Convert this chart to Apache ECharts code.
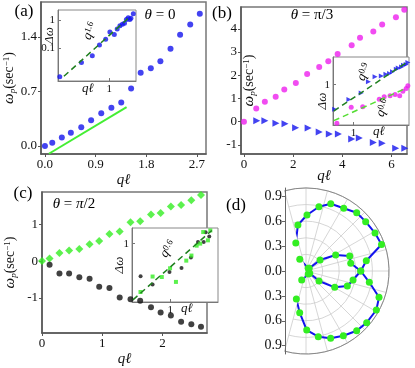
<!DOCTYPE html>
<html>
<head>
<meta charset="utf-8">
<script src="https://cdn.jsdelivr.net/npm/echarts@6/dist/echarts.min.js"></script>
<style>html,body{margin:0;padding:0;background:#fff}#chart{width:415px;height:368px}</style>
</head>
<body>
<div id="chart"></div>
<script>
// (a) theta = 0
var aQ = [0, 0.13, 0.30, 0.46, 0.645, 0.82, 1.0, 1.18, 1.355, 1.53, 1.70, 1.88, 2.05, 2.23, 2.40, 2.58, 2.75];
var aW = [0, 0.04, 0.11, 0.17, 0.24, 0.33, 0.42, 0.49, 0.56, 0.74, 0.94, 1.00, 1.09, 1.25, 1.43, 1.56, 1.70];
var aFitQ = [0.07, 1.45];
var aFitW = [-0.10, 0.50];
var aInQ = [0.126, 0.313, 0.493, 0.665, 0.863, 1.03, 1.24, 1.40, 1.57, 1.74, 1.90, 2.06, 2.22, 2.37, 2.49, 2.75];
var aInDw = [0.0096, 0.031, 0.054, 0.13, 0.208, 0.373, 0.303, 0.477, 0.625, 0.708, 0.762, 1.04, 1.21, 1.04, 1.15, 1.66];
var aInFitQ = [0.150, 2.39];
var aInFitDw = [0.01, 1.31];

// (b) theta = pi/3
var bQ = [0, 0.5, 0.85, 1.29, 1.64, 2.11, 2.57, 3.06, 3.43, 3.81, 4.38, 4.72, 5.26, 5.62, 6.18, 6.52];
var bUp = [0, 0.57, 0.86, 1.07, 1.39, 1.67, 2.05, 2.36, 2.6, 2.92, 3.29, 3.62, 3.89, 4.19, 4.5, 4.82];
var bQLow = [0.52, 0.85, 1.30, 1.67, 2.1, 2.61, 3.06, 3.47, 3.84, 4.38, 4.69, 5.26, 5.62, 6.17, 6.54];
var bLow = [0.04, 0.04, -0.07, -0.09, -0.26, -0.27, -0.44, -0.53, -0.53, -0.74, -0.70, -0.90, -0.93, -1.14, -1.14];
var bInLowDw = [0.32, 0.50, 0.68, 1.14, 1.44, 1.50, 1.63, 1.68, 1.83, 2.05, 2.18, 2.28, 2.47, 2.55, 2.8];
var bInUpQ = [0.56, 0.92, 1.37, 2.43, 2.88, 3.53, 4.2, 4.93, 5.5, 6.17, 6.54];
var bInUpDw = [0.166, 0.35, 0.36, 0.51, 0.57, 0.6, 0.63, 0.6, 0.74, 0.84, 0.95];
var bFit9Q = [0.503, 6.4];
var bFit9Dw = [0.293, 2.88];
var bFit6Q = [0.503, 6.05];
var bFit6Dw = [0.187, 0.84];

// (c) theta = pi/2
var cQ = [0, 0.126, 0.29, 0.45, 0.62, 0.79, 0.95, 1.12, 1.29, 1.47, 1.63, 1.81, 1.97, 2.14, 2.31, 2.48, 2.64];
var cUp = [0, 0.07, 0.22, 0.29, 0.33, 0.46, 0.55, 0.74, 0.81, 1.06, 1.09, 1.27, 1.31, 1.49, 1.53, 1.66, 1.80];
var cQLow = [0.126, 0.29, 0.45, 0.62, 0.79, 0.95, 1.12, 1.29, 1.47, 1.63, 1.81, 1.97, 2.14, 2.31, 2.48, 2.64];
var cLow = [-0.10, -0.34, -0.34, -0.44, -0.48, -0.70, -0.73, -0.99, -1.04, -1.08, -1.26, -1.40, -1.48, -1.65, -1.72, -1.79];
var cInBlackQ = [0.543, 0.695, 0.984, 1.26, 1.53, 1.77, 1.99, 2.07, 2.23];
var cInBlackDw = [0.677, 0.614, 0.713, 0.747, 0.846, 1.02, 1.02, 1.144, 1.09];
var cInGreenQ = [0.542, 0.695, 0.84, 0.996, 1.124, 1.39, 1.546, 1.72, 1.85, 1.97, 2.17, 2.28];
var cInGreenDw = [0.561, 0.675, 0.671, 0.745, 0.633, 0.816, 0.867, 0.976, 1.0, 1.148, 1.04, 1.17];
var cFitQ = [0.464, 2.35];
var cFitDw = [0.511, 1.17];

// (d) polar, angle in degrees
var dAng1 = [-32, -37.6, -29.6, -20, -10.8, 0, 9.7, 19.3, 28.8, 39.6, 49, 59, 69.8, 78.6, 89, 100, 110, 118, 51];
var dR1 = [0.053, 0.198, 0.398, 0.53, 0.577, 0.66, 0.737, 0.964, 0.949, 0.933, 0.931, 0.882, 0.864, 0.79, 0.675, 0.563, 0.359, 0.16, 0.042];
var dAng2 = [40, 38, 28.3, 19, 9.8, 0, -10.1, -19.8, -29, -40.4, -49.7, -60, -69.9, -79.4, -89.3, -98.6, -109, -115.5, -52];
var dR2 = [0.05, 0.215, 0.406, 0.557, 0.547, 0.66, 0.775, 0.935, 0.969, 0.96, 0.944, 0.9, 0.864, 0.805, 0.711, 0.508, 0.357, 0.12, 0.045];
var dTicks = [-0.9, -0.6, -0.3, 0, 0.3, 0.6, 0.9];

var FONT = '"Liberation Serif", "DejaVu Serif", serif';
var BLUE = '#1414ee', MAGENTA = '#ee1fee', GREEN = '#33ee22', DKGREEN = '#1f7f1f';

function pairs(xs, ys) {
    return xs.map(function (x, i) { return [x, ys[i]]; });
}

var nameRich = {
    w: { fontFamily: FONT, fontStyle: 'italic', fontSize: 15, color: '#111' },
    s: { fontFamily: FONT, fontStyle: 'italic', fontSize: 9, color: '#111', verticalAlign: 'bottom' },
    n: { fontFamily: FONT, fontSize: 14, color: '#111' },
    u: { fontFamily: FONT, fontSize: 9, color: '#111', verticalAlign: 'top' }
};
var W_NAME = '{w|ω}{s|p}{n|(sec}{u|−1}{n|)}';

function mainAxis(grid, min, max, ticks, digits, name, gap, isY) {
    return {
        type: 'value', gridIndex: grid, min: min, max: max,
        name: name, nameLocation: 'middle', nameGap: gap, nameMoveOverlap: false,
        nameTextStyle: isY ? { rich: nameRich } : { fontFamily: FONT, fontStyle: 'italic', fontSize: 15, color: '#111' },
        axisLine: { onZero: false, lineStyle: { color: '#555', width: 1.5 } },
        axisTick: { customValues: ticks, length: 3, lineStyle: { color: '#555' } },
        axisLabel: {
            customValues: ticks, fontFamily: FONT, fontSize: 13, color: '#111', margin: 4,
            formatter: function (v) { return v.toFixed(digits); }
        },
        splitLine: { show: false }
    };
}

function logAxis(grid, min, max, ticks, name, gap, pad) {
    return {
        type: 'log', logBase: 10, gridIndex: grid, min: min, max: max,
        name: name, nameLocation: 'middle', nameGap: gap, nameMoveOverlap: false,
        nameTextStyle: { fontFamily: FONT, fontStyle: 'italic', fontSize: 13, color: '#111', padding: pad || 0 },
        axisLine: { lineStyle: { color: '#777', width: 1 } },
        axisTick: { customValues: ticks, inside: true, length: 3, lineStyle: { color: '#777' } },
        axisLabel: {
            customValues: ticks, fontFamily: FONT, fontSize: 11, color: '#111', margin: 3,
            formatter: function (v) { return String(+(+v).toPrecision(2)); }
        },
        splitLine: { show: false }
    };
}

function scatter(ax, data, color, symbol, size, rot) {
    return {
        type: 'scatter', xAxisIndex: ax, yAxisIndex: ax, data: data,
        symbol: symbol, symbolSize: size, symbolRotate: rot || 0,
        itemStyle: { color: color }, silent: true
    };
}

function fit(ax, data, color, dashed, width) {
    return {
        type: 'line', xAxisIndex: ax, yAxisIndex: ax, data: data, symbol: 'none', silent: true,
        lineStyle: { color: color, width: width, type: dashed ? [6, 4] : 'solid' }
    };
}

function label(x, y, text, rich, rot) {
    return {
        type: 'text', x: x, y: y, rotation: rot || 0, z: 100,
        style: { text: text, rich: rich, align: 'center', verticalAlign: 'middle' }
    };
}

var txt = {
    i: { fontFamily: FONT, fontStyle: 'italic', fontSize: 15, color: '#111' },
    n: { fontFamily: FONT, fontSize: 15, color: '#111' },
    p: { fontFamily: FONT, fontSize: 17, color: '#111' },
    q: { fontFamily: FONT, fontStyle: 'italic', fontSize: 13, color: '#111' },
    e: { fontFamily: FONT, fontSize: 9, color: '#111', verticalAlign: 'top' }
};

var mainGrid = { show: true, borderColor: '#777', borderWidth: 1.5 };
var insetGrid = { show: true, borderColor: '#888', borderWidth: 1, backgroundColor: '#fff' };

var option = {
    animation: false,
    backgroundColor: '#fff',
    textStyle: { fontFamily: FONT },
    grid: [
        Object.assign({ left: 41, top: 2, width: 165, height: 152 }, mainGrid),
        Object.assign({ left: 58, top: 10, width: 78, height: 71 }, insetGrid),
        Object.assign({ left: 241, top: 7, width: 166, height: 147 }, mainGrid),
        Object.assign({ left: 333, top: 57, width: 76, height: 68 }, insetGrid),
        Object.assign({ left: 42, top: 192, width: 165, height: 147 }, mainGrid),
        Object.assign({ left: 132, top: 228, width: 86, height: 74 }, insetGrid),
        { left: 285, top: 188, width: 1, height: 166, show: false }
    ],
    xAxis: [
        mainAxis(0, -0.07, 2.86, [0, 0.9, 1.8, 2.7], 1, 'qℓ', 19, false),
        logAxis(1, 0.117, 3.08, [1], 'qℓ', 1, [0, 18, 0, 0]),
        mainAxis(2, -0.12, 6.63, [0, 2, 4, 6], 0, 'qℓ', 15, false),
        logAxis(3, 0.49, 6.8, [1], 'qℓ', 0, [0, 0, 0, 16]),
        mainAxis(4, 0, 2.74, [0, 1, 2], 0, 'qℓ', 19, false),
        logAxis(5, 0.455, 2.67, [1], 'qℓ', 0, [0, 0, 0, 24]),
        { type: 'value', gridIndex: 6, min: 0, max: 1, show: false }
    ],
    yAxis: [
        mainAxis(0, -0.103, 1.85, [0, 0.7, 1.4], 1, W_NAME, 24, true),
        logAxis(1, 0.0068, 2.27, [0.1, 1], 'Δω', 2, [0, 0, 0, 20]),
        mainAxis(2, -1.39, 4.94, [-1, 0, 1, 2, 3, 4], 0, W_NAME, -16, true),
        logAxis(3, 0.153, 3.63, [1], 'Δω', 4, [0, 20, 0, 0]),
        mainAxis(4, -1.96, 1.885, [-1, 0, 1], 0, W_NAME, 24, true),
        logAxis(5, 0.498, 1.205, [1], 'Δω', 6),
        {
            type: 'value', gridIndex: 6, min: -1, max: 1,
            axisLine: { lineStyle: { color: '#666', width: 1 } },
            axisTick: { customValues: dTicks, length: 3, lineStyle: { color: '#666' } },
            axisLabel: {
                customValues: dTicks, fontFamily: FONT, fontSize: 14, color: '#111', margin: 3,
                formatter: function (v) { return Math.abs(v).toFixed(1); }
            },
            splitLine: { show: false }
        }
    ],
    polar: { center: [306, 271], radius: 83 },
    angleAxis: {
        type: 'value', min: -105, max: 105, interval: 15,
        startAngle: -105, endAngle: 105, clockwise: false,
        axisLine: { lineStyle: { color: '#888', width: 1 } },
        axisTick: { show: false }, axisLabel: { show: false },
        splitLine: { lineStyle: { color: '#ccc', width: 0.8 } }
    },
    radiusAxis: {
        type: 'value', min: 0, max: 1, interval: 0.2,
        axisLine: { show: false }, axisTick: { show: false }, axisLabel: { show: false },
        splitLine: { lineStyle: { color: '#ccc', width: 0.8 } }
    },
    series: [
        fit(0, pairs(aFitQ, aFitW), '#44ee33', false, 2),
        scatter(0, pairs(aQ, aW), BLUE, 'circle', 6),
        scatter(1, pairs(aInQ, aInDw), BLUE, 'circle', 5),
        fit(1, pairs(aInFitQ, aInFitDw), DKGREEN, true, 1.5),
        scatter(2, pairs(bQ, bUp), MAGENTA, 'circle', 6),
        scatter(2, pairs(bQLow, bLow), BLUE, 'triangle', 7, -90),
        fit(3, pairs(bFit9Q, bFit9Dw), DKGREEN, true, 1.5),
        fit(3, pairs(bFit6Q, bFit6Dw), '#55dd33', true, 1.5),
        scatter(3, pairs(bQLow, bInLowDw), BLUE, 'triangle', 5, -90),
        scatter(3, pairs(bInUpQ, bInUpDw), MAGENTA, 'circle', 5),
        scatter(4, pairs(cQ, cUp), GREEN, 'diamond', 8),
        scatter(4, pairs(cQLow, cLow), '#111', 'circle', 6),
        fit(5, pairs(cFitQ, cFitDw), DKGREEN, true, 1.5),
        scatter(5, pairs(cInBlackQ, cInBlackDw), '#111', 'circle', 4),
        scatter(5, pairs(cInGreenQ, cInGreenDw), GREEN, 'rect', 4),
        {
            type: 'line', coordinateSystem: 'polar', data: pairs(dR1, dAng1), silent: true,
            symbol: 'circle', symbolSize: 7, showAllSymbol: true,
            lineStyle: { color: BLUE, width: 2 }, itemStyle: { color: GREEN }
        },
        {
            type: 'line', coordinateSystem: 'polar', data: pairs(dR2, dAng2), silent: true,
            symbol: 'circle', symbolSize: 7, showAllSymbol: true,
            lineStyle: { color: BLUE, width: 2 }, itemStyle: { color: GREEN }
        }
    ],
    graphic: [
        label(24, 12, '{p|(a)}', txt),
        label(160, 15, '{i|θ}{n| = 0}', txt),
        label(222, 14, '{p|(b)}', txt),
        label(312, 15, '{i|θ}{n| = π/3}', txt),
        label(23, 194, '{p|(c)}', txt),
        label(74, 204, '{i|θ}{n| = }{i|π}{n|/2}', txt),
        label(236, 206, '{p|(d)}', txt),
        label(90, 31, '{q|q}{e|1.6}', txt, 1.2),
        label(364, 72, '{q|q}{e|0.9}', txt, 1.2),
        label(383, 108, '{q|q}{e|0.6}', txt, 1.2),
        label(168, 249, '{q|q}{e|0.6}', txt, 1.0)
    ]
};

var chart = echarts.init(document.getElementById('chart'));
chart.setOption(option);
</script>
</body>
</html>
